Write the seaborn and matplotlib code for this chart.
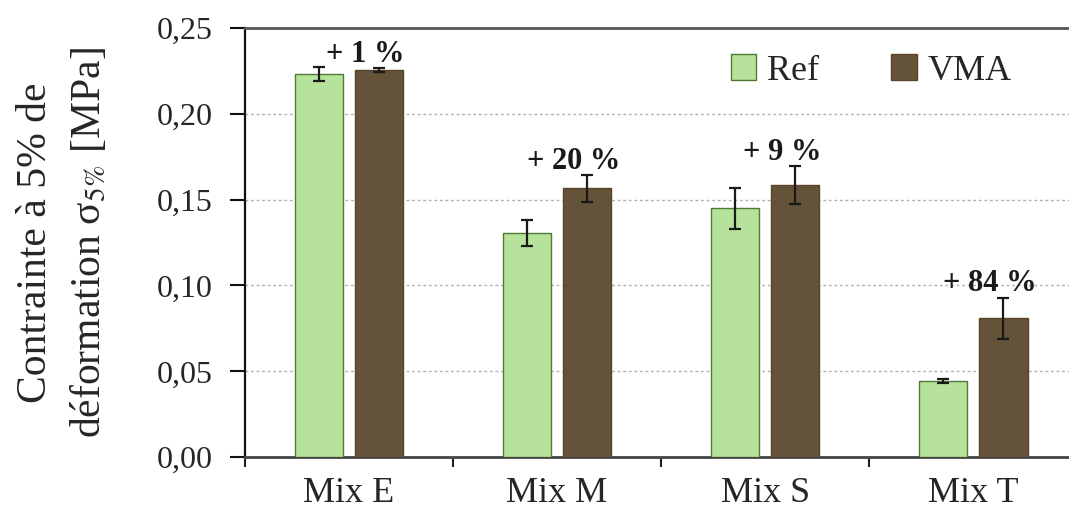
import pandas as pd
import numpy as np
import matplotlib
matplotlib.use('Agg')
import matplotlib.pyplot as plt
from matplotlib.ticker import FuncFormatter, FixedLocator
import seaborn as sns

MIXES = ['Mix E', 'Mix M', 'Mix S', 'Mix T']
SERIES = ['Ref', 'VMA']
REF_VAL = [0.223, 0.1305, 0.145, 0.0443]
REF_ERR = [0.004, 0.0075, 0.012, 0.001]
VMA_VAL = [0.2255, 0.1565, 0.1585, 0.081]
VMA_ERR = [0.001, 0.008, 0.011, 0.012]
GAIN_LABELS = ['+ 1 %', '+ 20 %', '+ 9 %', '+ 84 %']

COLORS = {'Ref': '#b5ee8f', 'VMA': '#6b5332'}
EDGES = {'Ref': '#4f7a35', 'VMA': '#5a4428'}

df = pd.DataFrame({
    'mix': MIXES * 2,
    'serie': ['Ref'] * len(MIXES) + ['VMA'] * len(MIXES),
    'valeur': REF_VAL + VMA_VAL,
    'err': REF_ERR + VMA_ERR,
})

sns.set_style('white')
plt.rcParams['font.family'] = ['Liberation Serif', 'DejaVu Serif']
plt.rcParams['mathtext.fontset'] = 'stix'

fig = plt.figure(figsize=(10.69, 5.08), dpi=100)
ax = fig.add_axes([0.229, 0.100, 0.771, 0.845])

sns.barplot(data=df, x='mix', y='valeur', hue='serie', hue_order=SERIES,
            palette=COLORS, width=0.58, gap=0.2, errorbar=None,
            linewidth=1, ax=ax, zorder=3)

# edge colours + error bars, one container per series
for cont, serie in zip(ax.containers, SERIES):
    sub = df[df['serie'] == serie]
    xs = []
    for bar in cont:
        bar.set_edgecolor(EDGES[serie])
        xs.append(bar.get_x() + bar.get_width() / 2)
    ax.errorbar(xs, sub['valeur'], yerr=sub['err'], fmt='none',
                ecolor='#1a1a1a', elinewidth=1.6, capsize=4, capthick=1.6, zorder=4)

# pourcentage de gain au dessus de chaque groupe
for i, lab in enumerate(GAIN_LABELS):
    top = VMA_VAL[i] + VMA_ERR[i]
    ax.text(i + 0.08, top + 0.008, lab, ha='center', va='center',
            fontsize=22, fontweight='bold', color='#1a1a1a', zorder=5)

ax.set_ylim(0, 0.25)
ax.set_xlim(-0.5, 3.46)
ax.yaxis.set_major_locator(FixedLocator(np.arange(0, 0.26, 0.05)))
ax.yaxis.set_major_formatter(FuncFormatter(lambda v, p: f'{v:.2f}'.replace('.', ',')))
ax.xaxis.set_minor_locator(FixedLocator([-0.5, 0.5, 1.5, 2.5, 3.5]))

ax.grid(True, axis='y', linestyle=(0, (2, 2)), color='#b0b0b0', linewidth=1, zorder=0)
ax.set_axisbelow(True)

ax.tick_params(axis='y', direction='out', length=11, width=1.5, pad=12,
               labelsize=23, left=True, color='#111111')
ax.tick_params(axis='x', which='major', length=0, pad=14, labelsize=26)
ax.tick_params(axis='x', which='minor', direction='out', length=7, width=1.5,
               bottom=True, color='#222222')

for side in ['left', 'bottom', 'top']:
    ax.spines[side].set_visible(True)
ax.spines['right'].set_visible(False)
ax.spines['left'].set_linewidth(1.6)
ax.spines['left'].set_color('#111111')
ax.spines['bottom'].set_linewidth(2)
ax.spines['bottom'].set_color('#444444')
ax.spines['top'].set_linewidth(2)
ax.spines['top'].set_color('#555555')

ax.set_xlabel('')
ax.set_ylabel('Contrainte à 5% de\ndéformation σ$_{5\\%}$ [MPa]',
              fontsize=30, linespacing=1.45)
ax.yaxis.set_label_coords(-0.165, 0.5)

handles, labels = ax.get_legend_handles_labels()
for h, s in zip(handles, SERIES):
    h.set_edgecolor(EDGES[s])
ax.legend(handles, labels, ncol=2, frameon=False, fontsize=26,
          loc='center', bbox_to_anchor=(0.815, 0.86), bbox_transform=fig.transFigure,
          handlelength=0.7, handleheight=0.7, handletextpad=0.3, columnspacing=2.0)

plt.savefig('out.png', dpi=100)
